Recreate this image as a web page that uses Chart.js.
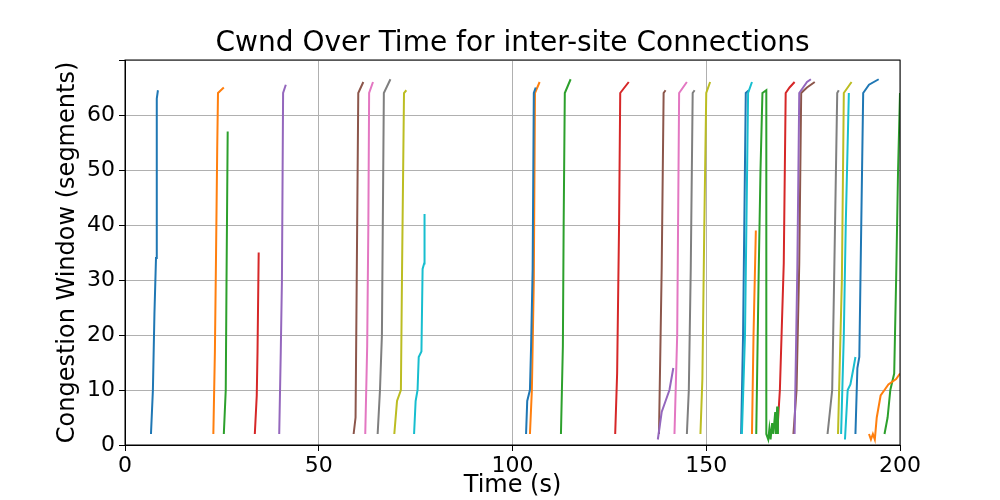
<!DOCTYPE html>
<html>
<head>
<meta charset="utf-8">
<script src="https://cdn.jsdelivr.net/npm/chart.js@4/dist/chart.umd.min.js"></script>
<style>body{margin:0;background:#fff}</style>
</head>
<body>
<canvas id="c" width="1000" height="500"></canvas>
<script>
// Colores de matplotlib (tab10)
const palette = ["#1f77b4","#ff7f0e","#2ca02c","#d62728","#9467bd","#8c564b","#e377c2","#7f7f7f","#bcbd22","#17becf"];

// Cada conexión: tiempos (s) y cwnd (segmentos)
const connTimes = [
  [6.7,7.2,7.6,8.0,8.2,8.5],
  [22.8,23.2,23.5,23.8,24.0,25.5],
  [25.5,26.0,26.2,26.5],
  [33.5,34.0,34.2,34.5],
  [39.8,40.2,40.5,40.8,41.5],
  [59,59.5,59.8,60.2,61.5],
  [62,62.5,62.8,63,64],
  [65.2,65.8,66.3,66.8,68.5],
  [69.5,70.2,71.2,71.5,72,72.6],
  [74.6,75,75.5,75.8,76.5,76.8,77.2,77.3],
  [103.5,103.8,104.5,104.8,105.2,105.5,106],
  [104.5,105,105.5,105.8,107],
  [112.5,113,113.2,113.5,115],
  [126.5,127,127.5,127.8,130],
  [137.5,138.5,139.5,140.5,141.5],
  [137.8,138.5,139,139.5],
  [141.8,142.5,143,145],
  [145,145.5,146,146.5,147],
  [148.5,149,149.5,150,151],
  [159.2,160,160.8,161.8],
  [159,159.5,160.2,161],
  [161.8,162.2,162.8],
  [162.9,163.5,164,164.5,165.5,165.5,166,166.3,166.6,167,167.3,167.8,168,168.3,168.5],
  [168.3,169,170,170.5,171.5,172.8],
  [172.8,173.5,174,175,176,177],
  [172.5,173.3,174,174.5,176,178],
  [181.3,182.5,183,183.8,184.2],
  [184,185,185.5,187.5],
  [184.8,185.5,186,186.8],
  [185.8,186.5,187.2,188,188.5],
  [188.5,189,189.5,190,190.5,192,194.5],
  [192,192.5,193,193.5,194,195,196,197,199,200],
  [196,196.8,197.5,198.5,199,199.5,200]
];
const connCwnd = [
  [2,10,24,34,63,64.5],
  [2,17,35,54,64,65],
  [2,10,30,57],
  [2,9,17,35],
  [2,17,30,64,65.5],
  [2,5,30,64,66],
  [2,18,40,64,66],
  [2,10,20,64,66.5],
  [2,8,10,32,64,64.5],
  [2,8,10,16,17,32,33,42],
  [2,8,10,18,32,64,65],
  [2,10,30,64,66],
  [2,18,40,64,66.5],
  [2,13,40,64,66],
  [1,6,8,10,14],
  [2,32,64,64.5],
  [2,20,64,66],
  [2,10,32,64,64.5],
  [2,12,40,64,66],
  [2,20,64,66],
  [2,20,64,64.5],
  [2,20,39],
  [2,30,50,64,64.5,2,1,3,1,4,2,6,2,7,2],
  [2,10,33,64,65,66],
  [2,32,64,65,66,66.5],
  [2,10,33,64,65,66],
  [2,10,30,64,64.5],
  [2,30,64,66],
  [2,20,40,64],
  [1,10,11,14,16],
  [2,14,16,40,64,65.5,66.5],
  [2,1,2,1,5,9,10,11,12,13],
  [2,5,10,13,30,50,64]
];
const connColors = [0,1,2,3,4,5,6,7,8,9,0,1,2,3,4,5,6,7,8,9,0,1,2,3,4,5,7,8,9,9,0,1,2];

const xTicks = [0,50,100,150,200];
const chartTitle = "Cwnd Over Time for inter-site Connections";

const datasets = connTimes.map((ts, i) => ({
  data: ts.map((t, j) => ({ x: t, y: connCwnd[i][j] })),
  borderColor: palette[connColors[i]],
  borderWidth: 2,
  pointRadius: 0,
  fill: false,
  tension: 0
}));

// Marco negro y título centrado sobre el área del gráfico
const frame = {
  id: "frame",
  afterDraw(chart) {
    const a = chart.chartArea, ctx = chart.ctx;
    ctx.save();
    ctx.strokeStyle = "#000";
    ctx.lineWidth = 1;
    ctx.strokeRect(a.left, a.top, a.right - a.left, a.bottom - a.top);
    ctx.fillStyle = "#000";
    ctx.font = "28px 'DejaVu Sans'";
    ctx.textAlign = "center";
    ctx.textBaseline = "alphabetic";
    ctx.fillText(chartTitle, (a.left + a.right) / 2, 51);
    ctx.restore();
  }
};

Chart.defaults.font.family = "DejaVu Sans";
Chart.defaults.color = "#000";

new Chart(document.getElementById("c"), {
  type: "line",
  data: { datasets },
  plugins: [frame],
  options: {
    responsive: false,
    animation: false,
    layout: { padding: { left: 53, right: 100, top: 60, bottom: 0 } },
    plugins: {
      legend: { display: false },
      tooltip: { enabled: false }
    },
    scales: {
      x: {
        type: "linear",
        min: 0, max: 200,
        afterBuildTicks: s => { s.ticks = xTicks.map(v => ({ value: v })); },
        afterFit: s => { s.height = 55; },
        ticks: { font: { size: 22 }, padding: 2, maxRotation: 0 },
        grid: { color: "#b0b0b0", tickColor: "#000", tickLength: 6 },
        border: { color: "#000" },
        title: { display: true, text: "Time (s)", font: { size: 24 }, padding: { top: 0, bottom: 0 } }
      },
      y: {
        min: 0, max: 70,
        afterFit: s => { s.width = 72; },
        ticks: { stepSize: 10, font: { size: 22 }, padding: 4, callback: v => v > 60 ? "" : v },
        grid: { color: "#b0b0b0", tickColor: "#000", tickLength: 6 },
        border: { color: "#000" },
        title: { display: true, text: "Congestion Window (segments)", font: { size: 24 }, padding: { top: 0, bottom: 0 } }
      }
    }
  }
});
</script>
</body>
</html>
